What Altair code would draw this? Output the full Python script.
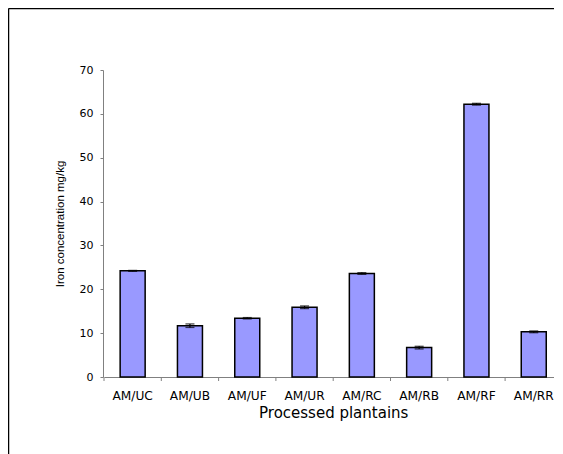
import altair as alt
import pandas as pd

categories = ["AM/UC", "AM/UB", "AM/UF", "AM/UR", "AM/RC", "AM/RB", "AM/RF", "AM/RR"]
values = [24.2, 11.7, 13.4, 15.9, 23.6, 6.7, 62.2, 10.3]
errors = [0.1, 0.4, 0.15, 0.3, 0.2, 0.3, 0.2, 0.2]
y_ticks = [0, 10, 20, 30, 40, 50, 60, 70]

df = pd.DataFrame({"cat": categories, "val": values, "err": errors})
df["lo"] = df["val"] - df["err"]
df["hi"] = df["val"] + df["err"]

FONT = "Liberation Sans"
WIDE = "DejaVu Sans"
AXIS_GREY = "#808080"

xscale = alt.Scale(domain=categories, range=[1, 459.4], paddingInner=0, paddingOuter=0)
yscale = alt.Scale(domain=[0, 70], nice=False)

base = alt.Chart(df)

bars = base.mark_bar(size=25, color="#9999FF", stroke="black", strokeWidth=1.5).encode(
    x=alt.X("cat:N", scale=xscale, sort=categories,
            axis=alt.Axis(title="Processed plantains", ticks=False, labelAngle=0,
                          domainColor=AXIS_GREY, labelFont=WIDE, labelFontSize=12.2,
                          labelColor="black", labelPadding=12, titleFont=WIDE,
                          titleFontSize=15, titleFontWeight="normal", titleColor="black",
                          titlePadding=4)),
    y=alt.Y("val:Q", scale=yscale,
            axis=alt.Axis(title="Iron concentration mg/kg", values=y_ticks, grid=False,
                          domainColor=AXIS_GREY, tickColor=AXIS_GREY, tickSize=3,
                          labelFont=WIDE, labelFontSize=11, labelColor="black",
                          labelPadding=7, titleFont=FONT, titleFontSize=11.5,
                          titleFontWeight="normal", titleColor="black", titlePadding=14)),
)

err_rule = base.mark_rule(color="black", strokeWidth=1.2).encode(
    x=alt.X("cat:N", scale=xscale, sort=categories),
    y=alt.Y("lo:Q", scale=yscale),
    y2="hi:Q",
)
cap_lo = base.mark_tick(color="black", size=9, thickness=1.3).encode(
    x=alt.X("cat:N", scale=xscale, sort=categories),
    y=alt.Y("lo:Q", scale=yscale),
)
cap_hi = base.mark_tick(color="black", size=9, thickness=1.3).encode(
    x=alt.X("cat:N", scale=xscale, sort=categories),
    y=alt.Y("hi:Q", scale=yscale),
)

xticks = base.mark_rule(color=AXIS_GREY, strokeWidth=1).encode(
    x=alt.X("cat:N", scale=xscale, sort=categories, bandPosition=0),
    y=alt.value(307),
    y2=alt.value(311),
)

one = alt.Data(values=[{"a": 1}])
frame_top = alt.Chart(one).mark_rule(color="black", strokeWidth=1.5).encode(
    x=alt.value(-94.5), x2=alt.value(700), y=alt.value(-61.5),
)
frame_left = alt.Chart(one).mark_rule(color="black", strokeWidth=1.5).encode(
    x=alt.value(-94.5), y=alt.value(-61.5), y2=alt.value(600),
)

chart = alt.layer(bars, err_rule, cap_lo, cap_hi, xticks, frame_top, frame_left).properties(
    width=451, height=307,
    autosize=alt.AutoSizeParams(type="none"),
    padding={"left": 95, "top": 62, "right": 0, "bottom": 77},
    background="white",
).configure_view(stroke=None, strokeWidth=0)

chart.save("out.html", embed_options={"renderer": "svg", "actions": False})
